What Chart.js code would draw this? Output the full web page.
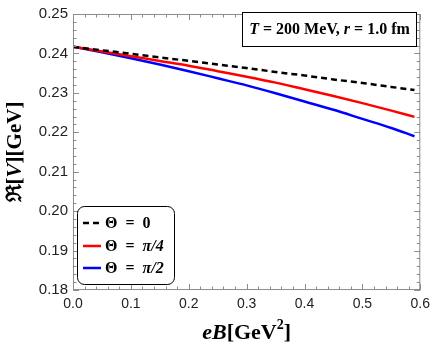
<!DOCTYPE html>
<html>
<head>
<meta charset="utf-8">
<script src="https://cdn.jsdelivr.net/npm/chart.js@4.4.1/dist/chart.umd.min.js"></script>
<style>
  html, body { margin: 0; padding: 0; background: #fff; }
  canvas { display: block; }
</style>
</head>
<body>
<canvas id="potentialChart" width="436" height="351"></canvas>
<script>
// eB values [GeV^2]
const eB = [0, 0.05, 0.10, 0.15, 0.20, 0.25, 0.30, 0.35, 0.40, 0.45, 0.50, 0.55, 0.59];
// Re[V] [GeV] for each orientation
const theta0 = [0.2417, 0.2408, 0.2399, 0.2390, 0.2381, 0.2372, 0.2363, 0.2353, 0.2344, 0.2334, 0.2325, 0.2315, 0.2307];
const thetaPi4 = [0.2417, 0.2405, 0.2393, 0.2381, 0.2369, 0.2355, 0.2341, 0.2326, 0.2309, 0.2292, 0.2274, 0.2255, 0.2239];
const thetaPi2 = [0.2417, 0.2403, 0.2388, 0.2372, 0.2355, 0.2337, 0.2319, 0.2299, 0.2278, 0.2257, 0.2234, 0.2211, 0.2190];

const seriesLabels = ['Θ = 0', 'Θ = π/4', 'Θ = π/2'];
const xTicks = [0, 0.1, 0.2, 0.3, 0.4, 0.5, 0.6];
const yTicks = [0.18, 0.19, 0.20, 0.21, 0.22, 0.23, 0.24, 0.25];

const toPoints = ys => eB.map((x, i) => ({ x: x, y: ys[i] }));

// draw a run of [font, text, dy] pieces starting at x
function drawRun(ctx, parts, x, y) {
    parts.forEach(p => {
        ctx.font = p[0];
        ctx.fillText(p[1], x, y + (p[2] || 0));
        x += ctx.measureText(p[1]).width;
    });
}
function runWidth(ctx, parts) {
    let w = 0;
    parts.forEach(p => { ctx.font = p[0]; w += ctx.measureText(p[1]).width; });
    return w;
}

// frame with inward ticks, annotation box, legend, axis titles
const decorations = {
    id: 'decorations',
    afterDraw(chart) {
        const ctx = chart.ctx;
        const a = chart.chartArea;
        const xs = chart.scales.x;
        const ys = chart.scales.y;
        ctx.save();

        // frame
        ctx.strokeStyle = '#8c8c8c';
        ctx.lineWidth = 1;
        ctx.strokeRect(a.left + 0.5, a.top + 0.5, a.right - a.left - 1, a.bottom - a.top - 1);

        // ticks
        ctx.beginPath();
        for (let i = 0; i <= 30; i++) {
            const px = Math.round(xs.getPixelForValue(i * 0.02)) + 0.5;
            const len = (i % 5 === 0) ? 6 : 3.5;
            ctx.moveTo(px, a.bottom); ctx.lineTo(px, a.bottom - len);
            ctx.moveTo(px, a.top); ctx.lineTo(px, a.top + len);
        }
        for (let i = 0; i <= 35; i++) {
            const py = Math.round(ys.getPixelForValue(0.18 + i * 0.002)) + 0.5;
            const len = (i % 5 === 0) ? 6 : 3.5;
            ctx.moveTo(a.left, py); ctx.lineTo(a.left + len, py);
            ctx.moveTo(a.right, py); ctx.lineTo(a.right - len, py);
        }
        ctx.stroke();

        // annotation box
        ctx.fillStyle = '#fff';
        ctx.fillRect(242, 12, 174, 34);
        ctx.strokeStyle = '#000';
        ctx.strokeRect(242.5, 12.5, 174, 34);
        ctx.fillStyle = '#000';
        ctx.textBaseline = 'middle';
        ctx.textAlign = 'left';
        const note = [
            ['italic bold 16px "Liberation Serif"', 'T'],
            ['bold 16px "Liberation Serif"', ' = 200 MeV, '],
            ['italic bold 16px "Liberation Serif"', 'r'],
            ['bold 16px "Liberation Serif"', ' = 1.0 fm']
        ];
        drawRun(ctx, note, 329.5 - runWidth(ctx, note) / 2, 30);

        // legend
        ctx.beginPath();
        ctx.roundRect(77.5, 206.5, 97, 78, 7);
        ctx.fillStyle = '#fff';
        ctx.fill();
        ctx.strokeStyle = '#000';
        ctx.lineWidth = 1;
        ctx.stroke();
        const rows = [223, 246, 268];
        chart.data.datasets.forEach((ds, i) => {
            ctx.beginPath();
            ctx.strokeStyle = ds.borderColor;
            ctx.lineWidth = 2.5;
            ctx.setLineDash(ds.borderDash || []);
            ctx.moveTo(83, rows[i]);
            ctx.lineTo(101, rows[i]);
            ctx.stroke();
            ctx.setLineDash([]);
            ctx.fillStyle = '#000';
            const bits = ds.label.split(' = ');
            drawRun(ctx, [
                ['bold 16px "Liberation Serif"', bits[0] + '\u2002=\u2002'],
                [(bits[1] === '0' ? '' : 'italic ') + 'bold 16px "Liberation Serif"', bits[1]]
            ], 105, rows[i] + 1);
        });

        // x title
        const xt = [
            ['italic bold 22px "Liberation Serif"', 'eB', 0],
            ['bold 22px "Liberation Serif"', '[GeV', 0],
            ['bold 14px "Liberation Serif"', '2', -8],
            ['bold 22px "Liberation Serif"', ']', 0]
        ];
        drawRun(ctx, xt, (a.left + a.right) / 2 - runWidth(ctx, xt) / 2, 333);

        // y title
        ctx.translate(16, (a.top + a.bottom) / 2);
        ctx.rotate(-Math.PI / 2);
        const yt = [
            ['bold 21px "DejaVu Serif"', 'ℜ'],
            ['bold 21px "Liberation Serif"', '['],
            ['italic bold 21px "Liberation Serif"', 'V'],
            ['bold 21px "Liberation Serif"', '][GeV]']
        ];
        drawRun(ctx, yt, -runWidth(ctx, yt) / 2, 0);

        ctx.restore();
    }
};

const lineStyle = {
    borderWidth: 2.5,
    pointRadius: 0,
    cubicInterpolationMode: 'monotone',
    fill: false
};

new Chart(document.getElementById('potentialChart').getContext('2d'), {
    type: 'line',
    data: {
        datasets: [
            Object.assign({ label: seriesLabels[0], data: toPoints(theta0), borderColor: '#000000', borderDash: [6, 4] }, lineStyle),
            Object.assign({ label: seriesLabels[1], data: toPoints(thetaPi4), borderColor: '#ff0000' }, lineStyle),
            Object.assign({ label: seriesLabels[2], data: toPoints(thetaPi2), borderColor: '#0000ff' }, lineStyle)
        ]
    },
    options: {
        responsive: false,
        animation: false,
        layout: { padding: { left: 0, right: 13, top: 10, bottom: 0 } },
        plugins: {
            legend: { display: false },
            tooltip: { enabled: false }
        },
        scales: {
            x: {
                type: 'linear',
                min: 0,
                max: 0.6,
                afterFit(scale) { scale.height = 61; },
                afterBuildTicks(scale) { scale.ticks = xTicks.map(v => ({ value: v })); },
                grid: { display: false, drawTicks: false },
                border: { display: false },
                ticks: {
                    padding: 6,
                    color: '#222',
                    font: { family: '"Liberation Sans"', size: 14 },
                    maxRotation: 0,
                    callback: v => v.toFixed(1)
                }
            },
            y: {
                min: 0.18,
                max: 0.25,
                afterFit(scale) { scale.width = 73; },
                afterBuildTicks(scale) { scale.ticks = yTicks.map(v => ({ value: v })); },
                grid: { display: false, drawTicks: false },
                border: { display: false },
                ticks: {
                    padding: 5,
                    color: '#222',
                    font: { family: '"Liberation Sans"', size: 15 },
                    callback: v => v.toFixed(2)
                }
            }
        }
    },
    plugins: [decorations]
});
</script>
</body>
</html>
